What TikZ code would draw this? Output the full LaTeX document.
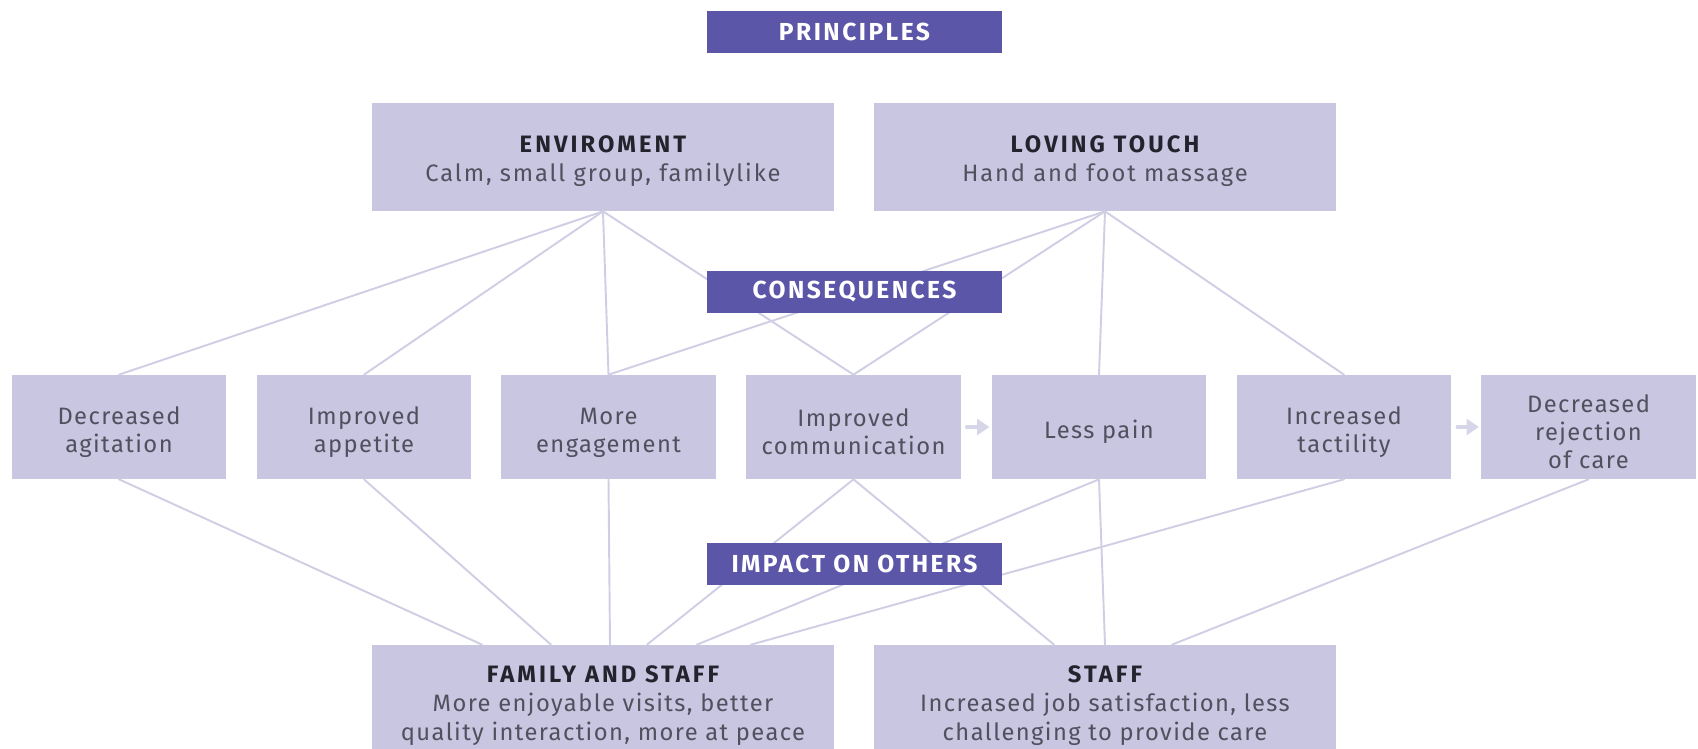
\documentclass[tikz,border=0pt]{standalone}
\usepackage{fontspec}
\setmainfont{Fira Sans}
\usetikzlibrary{arrows.meta,calc}
\definecolor{boxfill}{HTML}{C8C6E0}
\definecolor{tagfill}{HTML}{5C56A8}
\definecolor{linkcol}{HTML}{D0CEE4}
\definecolor{txtcol}{HTML}{50505E}
\definecolor{headcol}{HTML}{23232E}
\newcommand{\rowtop}{\rule{0pt}{15.6pt}}
\newcommand{\grouptop}{\rule{0pt}{14.2pt}}
\newcommand{\basetop}{\rule{0pt}{14.8pt}}
\newcommand{\hdr}[1]{{\color{headcol}\bfseries\addfontfeature{LetterSpace=13}#1}}

\begin{document}
\begin{tikzpicture}[line cap=round,line join=round,x=0.02cm,y=-0.02cm,
	item/.style={fill=boxfill,minimum width=4.3cm,minimum height=2.08cm,inner sep=0,align=center,text=txtcol,font=\fontsize{13.5}{16}\selectfont\addfontfeature{LetterSpace=6}},
	group/.style={fill=boxfill,minimum width=9.24cm,minimum height=2.16cm,inner sep=0,align=center,text=txtcol,font=\fontsize{13.5}{17}\selectfont\addfontfeature{LetterSpace=8}},
	tag/.style={fill=tagfill,minimum width=5.9cm,minimum height=0.84cm,inner sep=0,text=white,font=\fontsize{14}{16}\selectfont\bfseries\addfontfeature{LetterSpace=10}},
	link/.style={draw=linkcol,line width=1.1pt},
	flow/.style={draw=linkcol!85,line width=1.8pt,-{Triangle[length=7pt,width=9pt]}}]
	\useasboundingbox (0,0) rectangle (1698,749);
	% boxes
	\node[tag] (prin) at (854.5,32) {PRINCIPLES};
	\node[group] (env) at (603,157) {\grouptop\hdr{ENVIROMENT}\\Calm, small group, familylike};
	\node[group] (touch) at (1105,157) {\grouptop\hdr{LOVING TOUCH}\\Hand and foot massage};
	\node[item] (agit) at (119,427) {\rowtop Decreased\\agitation};
	\node[item] (appe) at (364,427) {\rowtop Improved\\appetite};
	\node[item] (enga) at (608.5,427) {\rowtop More\\engagement};
	\node[item] (comm) at (853.5,427) {\rowtop Improved\\communication};
	\node[item] (pain) at (1099,427) {\rowtop Less pain};
	\node[item] (tact) at (1344,427) {\rowtop Increased\\tactility};
	\node[item] (reje) at (1588.5,427) {\rowtop Decreased\\rejection\\of care};
	\node[group,minimum height=2.24cm,font=\fontsize{13.5}{16.5}\selectfont\addfontfeature{LetterSpace=6}] (fam) at (603,701) {\basetop\hdr{FAMILY AND STAFF}\\More enjoyable visits, better\\quality interaction, more at peace};
	\node[group,minimum height=2.24cm,font=\fontsize{13.5}{16.5}\selectfont\addfontfeature{LetterSpace=6}] (staff) at (1105,701) {\basetop\hdr{STAFF}\\Increased job satisfaction, less\\challenging to provide care};
	% links
	\draw[link] (env.south) -- (agit.north);
	\draw[link] (env.south) -- (appe.north);
	\draw[link] (env.south) -- (enga.north);
	\draw[link] (env.south) -- (comm.north);
	\draw[link] (touch.south) -- (enga.north);
	\draw[link] (touch.south) -- (comm.north);
	\draw[link] (touch.south) -- (pain.north);
	\draw[link] (touch.south) -- (tact.north);
	\draw[link] (agit.south) -- ($(fam.north)+(-121,0)$);
	\draw[link] (appe.south) -- ($(fam.north)+(-52,0)$);
	\draw[link] (enga.south) -- ($(fam.north)+(7,0)$);
	\draw[link] (comm.south) -- ($(fam.north)+(44,0)$);
	\draw[link] (pain.south) -- ($(fam.north)+(94,0)$);
	\draw[link] (tact.south) -- ($(fam.north)+(148,0)$);
	\draw[link] (comm.south) -- ($(staff.north)+(-51,0)$);
	\draw[link] (pain.south) -- (staff.north);
	\draw[link] (reje.south) -- ($(staff.north)+(67,0)$);
	\draw[flow] ([xshift=3pt]comm.east) -- ([xshift=-1pt]pain.west);
	\draw[flow] ([xshift=3pt]tact.east) -- ([xshift=-1pt]reje.west);
	% labels over the links
	\node[tag] (cons) at (854.5,292) {CONSEQUENCES};
	\node[tag] (impa) at (854.5,564) {IMPACT ON OTHERS};
\end{tikzpicture}
\end{document}
